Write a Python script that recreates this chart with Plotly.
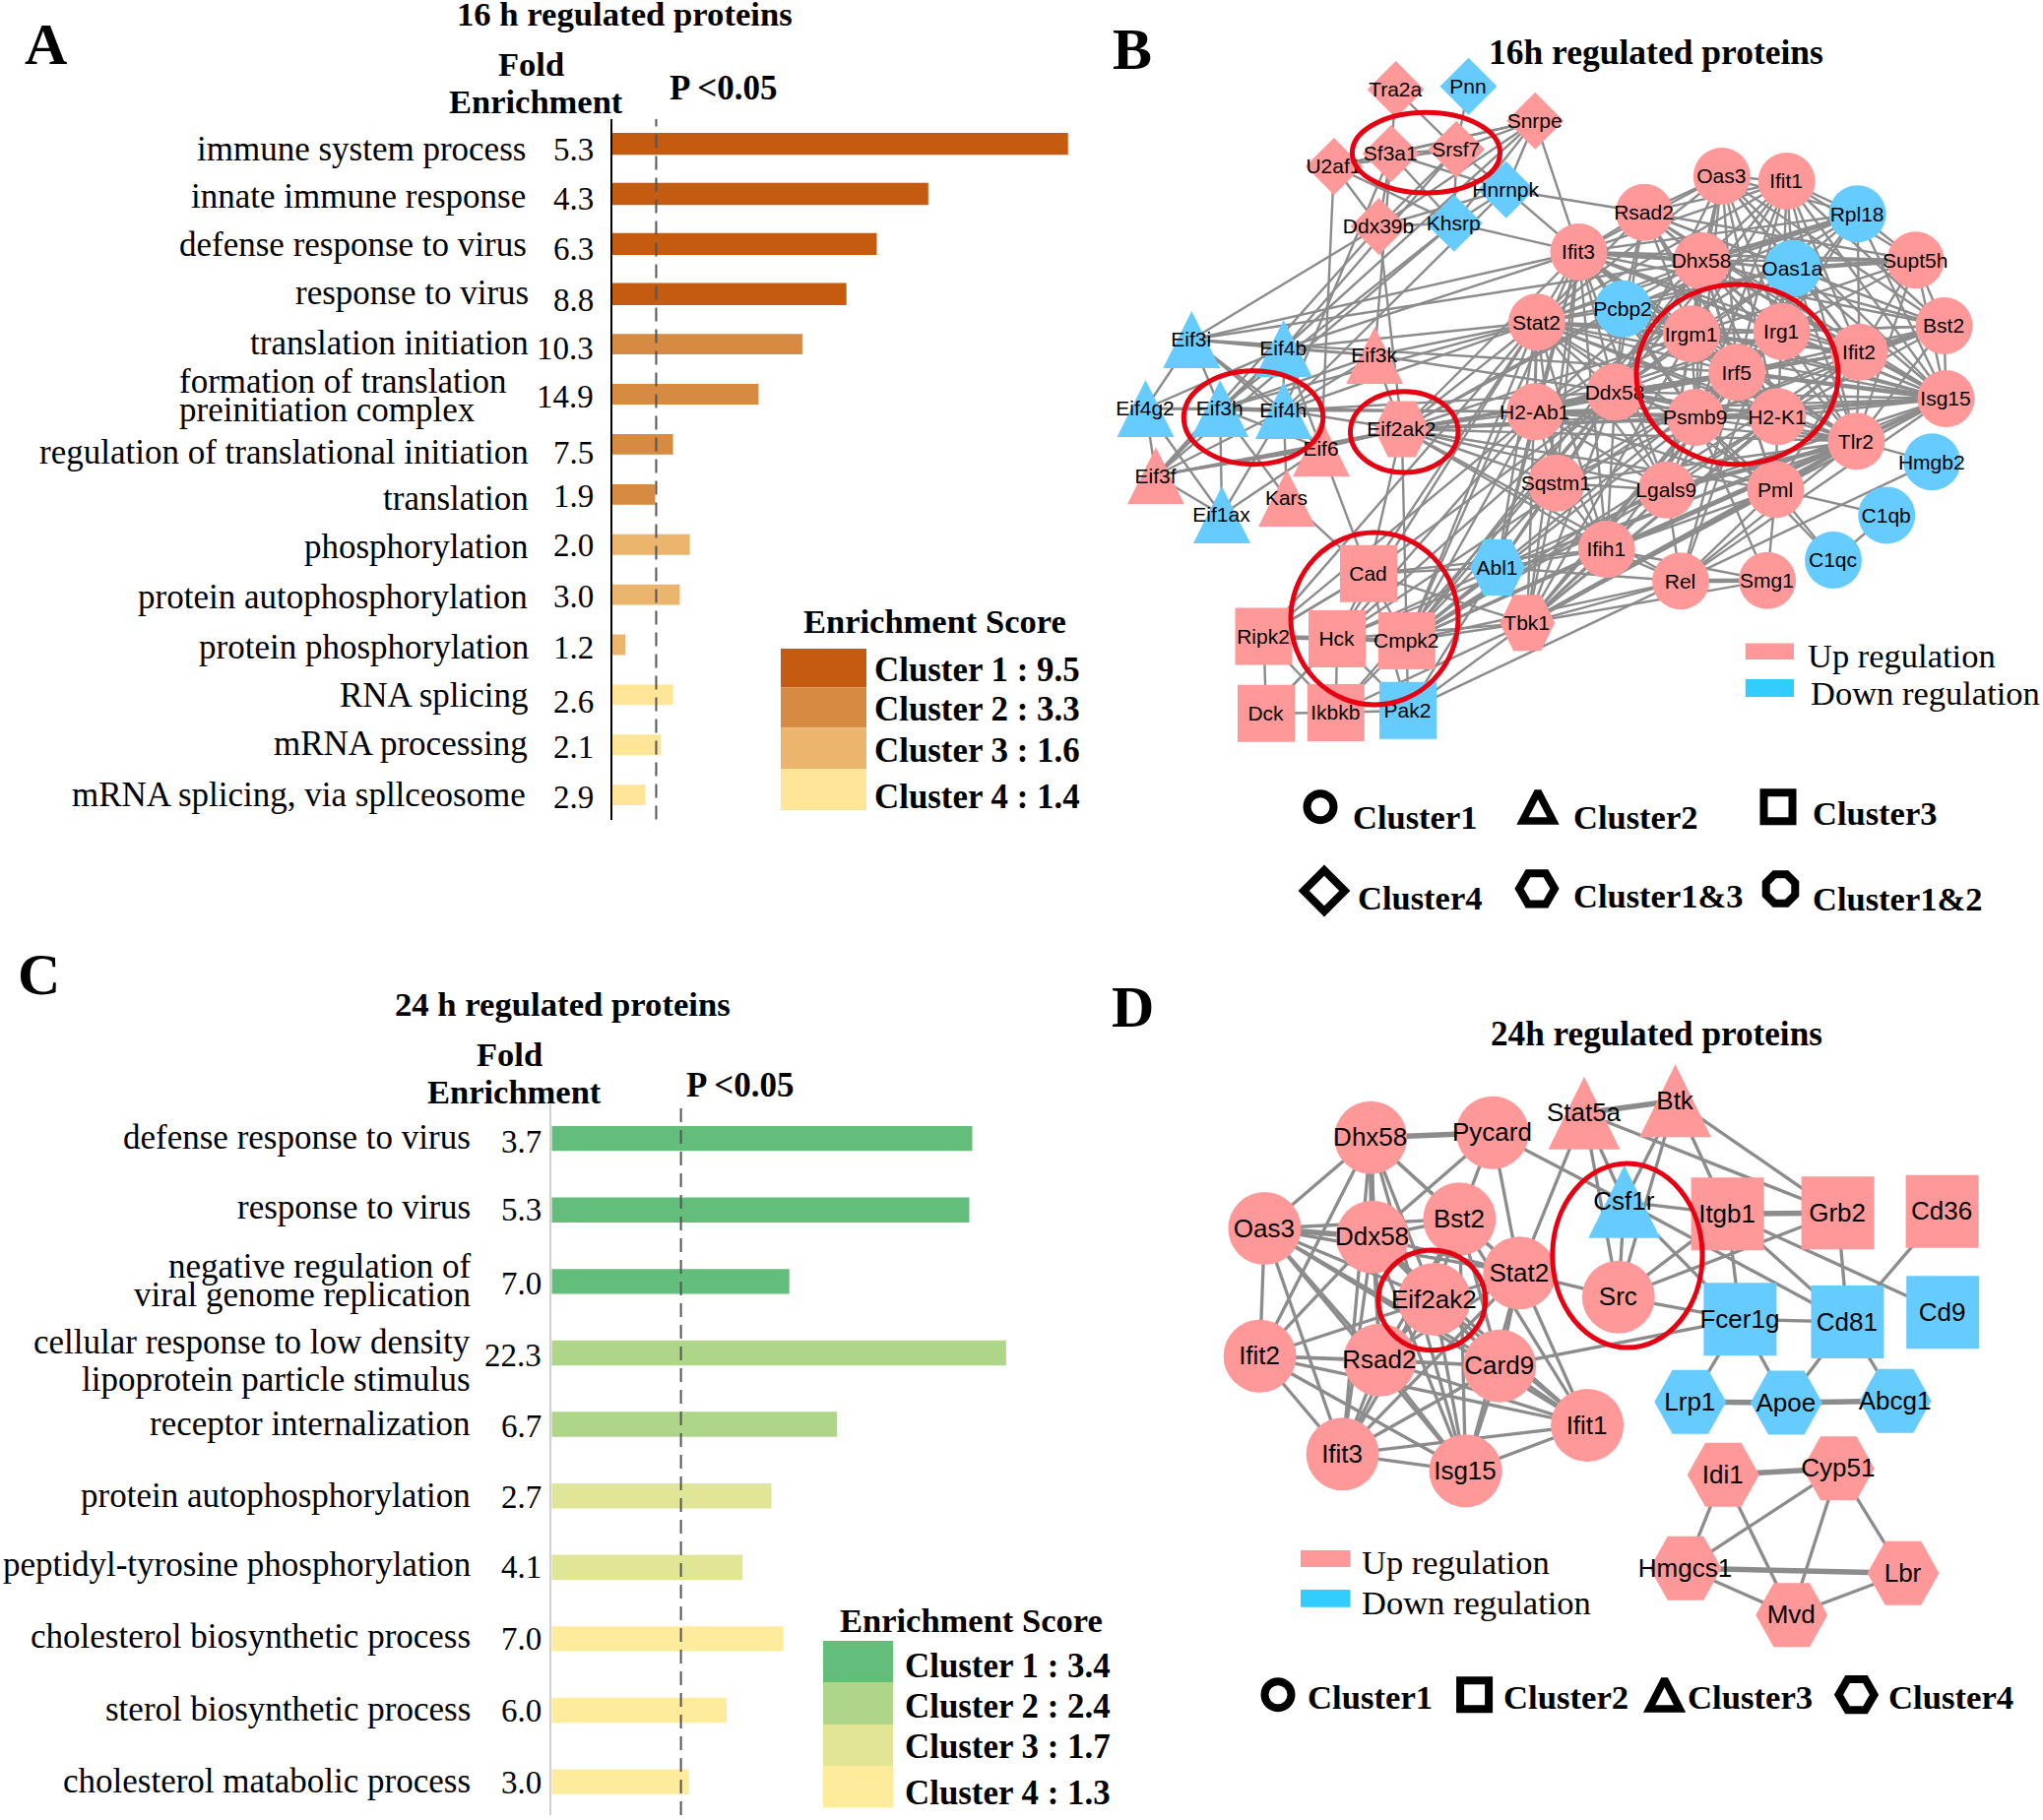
import plotly.graph_objects as go

W, H = 2075, 1849
SERIF = "Liberation Serif"
SANS = "Liberation Sans"
PINK, BLUE, SWATCH_BLUE = "#FF9999", "#66CCFF", "#33CCFF"
EDGE = "#8C8C8C"
RED = "#E60012"

# ---------- panel A ----------
A_TERMS = ["immune system process", "innate immune response", "defense response to virus",
           "response to virus", "translation initiation",
           "formation of translation preinitiation complex",
           "regulation of translational initiation", "translation", "phosphorylation",
           "protein autophosphorylation", "protein phosphorylation", "RNA splicing",
           "mRNA processing", "mRNA splicing, via spllceosome"]
A_LOGP = [13.53, 9.38, 7.85, 6.95, 5.64, 4.34, 1.80, 1.27, 2.30, 2.00, 0.38, 1.80, 1.44, 0.98]
A_CLUSTER = [1, 1, 1, 1, 2, 2, 2, 2, 3, 3, 3, 4, 4, 4]
A_FOLD = ["5.3", "4.3", "6.3", "8.8", "10.3", "14.9", "7.5", "1.9", "2.0", "3.0", "1.2", "2.6", "2.1", "2.9"]
A_COLORS = {1: "#C55A11", 2: "#D68A42", 3: "#EBB56E", 4: "#FFE597"}
A_SCORES = ["Cluster 1 : 9.5", "Cluster 2 : 3.3", "Cluster 3 : 1.6", "Cluster 4 : 1.4"]
P_LINE = 1.3

# ---------- panel C ----------
C_TERMS = ["defense response to virus", "response to virus",
           "negative regulation of viral genome replication",
           "cellular response to low density lipoprotein particle stimulus",
           "receptor internalization", "protein autophosphorylation",
           "peptidyl-tyrosine phosphorylation", "cholesterol biosynthetic process",
           "sterol biosynthetic process", "cholesterol matabolic process"]
C_LOGP = [4.23, 4.20, 2.39, 4.57, 2.87, 2.21, 1.92, 2.33, 1.76, 1.38]
C_CLUSTER = [1, 1, 1, 2, 2, 3, 3, 4, 4, 4]
C_FOLD = ["3.7", "5.3", "7.0", "22.3", "6.7", "2.7", "4.1", "7.0", "6.0", "3.0"]
C_COLORS = {1: "#63BE7B", 2: "#AED688", 3: "#E1E697", 4: "#FFEB9C"}
C_SCORES = ["Cluster 1 : 3.4", "Cluster 2 : 2.4", "Cluster 3 : 1.7", "Cluster 4 : 1.3"]

# ---------- panel B network ----------
B_NODES = {
    "Tra2a": (1417.7, 91), "Pnn": (1491.5, 87.7), "Snrpe": (1559.2, 122.7), "Sf3a1": (1412.8, 156),
    "Srsf7": (1479.2, 151.7), "U2af1": (1354.9, 169), "Hnrnpk": (1529.7, 192.7), "Ddx39b": (1400.5, 230),
    "Khsrp": (1476.8, 226.7), "Oas3": (1748.8, 179), "Ifit1": (1814.6, 184), "Rsad2": (1670, 215.7),
    "Rpl18": (1886.6, 217.3), "Ifit3": (1603.5, 256), "Dhx58": (1728.5, 265), "Oas1a": (1820.8, 272.7),
    "Supt5h": (1945.7, 264.3), "Stat2": (1561, 327.3), "Pcbp2": (1648.5, 313.7), "Irgm1": (1718, 339.3),
    "Irg1": (1809.7, 336.7), "Bst2": (1974.6, 331), "Ifit2": (1888.5, 357.7), "Irf5": (1764.2, 378.3),
    "Ddx58": (1640.5, 398.3), "H2-Ab1": (1559.2, 418.3), "Psmb9": (1722.3, 424), "H2-K1": (1805.4, 423.3),
    "Isg15": (1976.5, 405), "Tlr2": (1885.4, 448.3), "Hmgb2": (1962.3, 469.3), "Sqstm1": (1580.8, 490.7),
    "Lgals9": (1692.8, 497.7), "Pml": (1803.5, 497.3), "C1qb": (1916.2, 523.4), "C1qc": (1862, 569),
    "Ifih1": (1631.8, 558), "Rel": (1707, 590.3), "Smg1": (1795, 589.7),
    "Abl1": (1521, 576.6), "Tbk1": (1551.2, 632.8), "Eif2ak2": (1423.8, 436),
    "Cad": (1390, 582.8), "Ripk2": (1283.5, 646.6), "Hck": (1358, 649), "Cmpk2": (1428.8, 651),
    "Dck": (1286, 724.8), "Ikbkb": (1356.8, 724), "Pak2": (1430, 721.7),
    "Eif3i": (1210.3, 345), "Eif4b": (1303.8, 354), "Eif3k": (1396.2, 361), "Eif4g2": (1163.5, 415),
    "Eif3h": (1239.2, 415), "Eif4h": (1303.8, 417), "Eif6": (1342, 455.3), "Eif3f": (1174, 483.3),
    "Kars": (1307, 506), "Eif1ax": (1241, 523),
}
B_DOWN = ["Pnn", "Hnrnpk", "Khsrp", "Rpl18", "Oas1a", "Pcbp2", "Hmgb2", "C1qb", "C1qc", "Abl1", "Pak2",
          "Eif3i", "Eif4b", "Eif4g2", "Eif3h", "Eif4h", "Eif1ax"]
B_SQUARE = ["Cad", "Ripk2", "Hck", "Cmpk2", "Dck", "Ikbkb", "Pak2"]
B_DIAMOND = ["Tra2a", "Pnn", "Snrpe", "Sf3a1", "Srsf7", "U2af1", "Hnrnpk", "Ddx39b", "Khsrp"]
B_TRIANGLE = ["Eif3i", "Eif4b", "Eif3k", "Eif4g2", "Eif3h", "Eif4h", "Eif6", "Eif3f", "Kars", "Eif1ax"]
B_HEX = ["Abl1", "Tbk1", "Eif2ak2"]
B_EDGES = """
Tra2a: Sf3a1 Srsf7
Pnn: Srsf7
Snrpe: Sf3a1 Srsf7 U2af1 Ddx39b Khsrp Ifit3 Hnrnpk Eif4b
Sf3a1: Srsf7 U2af1 Hnrnpk Ddx39b Khsrp Eif4h Eif3k
Srsf7: U2af1 Hnrnpk Ddx39b Khsrp Eif4b
U2af1: Ddx39b Khsrp Eif6
Hnrnpk: Rsad2 Ifit3 Khsrp Ddx39b Eif4h
Ddx39b: Khsrp Eif3i Eif2ak2 Eif3f
Khsrp: Ifit3 Eif3h Eif3f
Eif3i: Eif4b Eif3k Eif3h Eif4h Eif4g2 Ifit3 Irf5 Dhx58 Eif6
Eif4b: Eif3k Eif3h Eif4h Eif6 Eif4g2 Stat2 Ifit3 Eif3f
Eif3k: Eif3h Eif4h Eif2ak2 Stat2 H2-K1
Eif4g2: Eif3h Eif4h Eif3f Eif1ax
Eif3h: Eif3f Eif6 Eif1ax Kars Stat2 H2-Ab1
Eif4h: Eif3f Eif1ax Kars Eif6 Ddx58 Stat2 H2-Ab1 Eif2ak2
Eif6: Eif3f Eif2ak2 Cad Eif1ax
Eif3f: Eif2ak2 Eif1ax Ddx58
Kars: Cad
Eif2ak2: Stat2 H2-Ab1 Ddx58 Irgm1 Irf5 Psmb9 H2-K1 Tlr2 Ifit2 Isg15 Dhx58 Pcbp2 Ifit3 Sqstm1 Cad Cmpk2 Lgals9 Ifih1 Pml Rel
Cad: Hck Cmpk2 Ripk2 Pak2 Abl1 Tbk1 Stat2 Ddx58 Ifih1
Ripk2: Cmpk2 Ikbkb Dck Cad Stat2 H2-Ab1
Hck: Ikbkb Pak2 Dck Stat2 Irf5 Ddx58 H2-Ab1 Abl1 Tbk1 Isg15
Cmpk2: Pak2 Ikbkb Tbk1 Abl1 Rel Ddx58 Stat2 H2-Ab1 Sqstm1 Lgals9 Irf5 Dhx58 Ifih1 Tlr2 Psmb9 H2-K1 Ifit3 Isg15 Ifit2
Dck: Ikbkb Hck
Ikbkb: Pak2 Tbk1 Ddx58
Pak2: Tbk1 Abl1 Rel
Abl1: Tbk1 Ifih1 Rel Stat2 Ddx58 Sqstm1 H2-Ab1 Lgals9 Ifit3 Tlr2 Dhx58
Tbk1: Rel Smg1 Pml Isg15 Ifih1 Lgals9 Sqstm1 Ifit3 H2-K1 Irf5 Ifit2 Stat2 Psmb9 Irg1 Irgm1 Ddx58
Rel: Ifih1 Pml Tlr2 Lgals9 Isg15 Hmgb2 Irf5 Oas1a
Smg1: Pml Ifih1 Psmb9
Pml: C1qb C1qc Irf5 Psmb9 H2-K1 Tlr2 Isg15 H2-Ab1 Ifih1 Ifit2
C1qb: C1qc
Hmgb2: Tlr2
Oas3: Ifit1 Rsad2 Ifit3 Dhx58 Oas1a Stat2 Irgm1 Irg1 Bst2 Ifit2 Irf5 Ddx58 Isg15 Rpl18 Psmb9 H2-K1
Ifit1: Rsad2 Rpl18 Ifit3 Dhx58 Oas1a Supt5h Stat2 Irgm1 Irg1 Bst2 Ifit2 Irf5 Ddx58 Isg15 Psmb9 Tlr2
Rsad2: Ifit3 Dhx58 Oas1a Stat2 Irgm1 Irg1 Bst2 Ifit2 Irf5 Ddx58 Isg15 H2-K1 Supt5h Pcbp2
Rpl18: Oas1a Ifit3 Supt5h Irg1 Ifit2 Isg15 Pcbp2 Irf5 Stat2 H2-Ab1
Ifit3: Oas1a Stat2 Pcbp2 Irgm1 Irg1 Bst2 Ifit2 Irf5 Ddx58 Isg15 H2-Ab1 Psmb9 H2-K1 Tlr2 Supt5h Sqstm1 Lgals9 Ifih1
Dhx58: Oas1a Supt5h Stat2 Irgm1 Irg1 Bst2 Ifit2 Irf5 Ddx58 Isg15 Psmb9 H2-K1 Tlr2 H2-Ab1 Lgals9 Pml
Oas1a: Stat2 Bst2 Ifit2 Isg15 Irf5 Ddx58 Irgm1 Irg1 Pcbp2 Tlr2
Supt5h: Bst2 Isg15 Ifit2 Irgm1 Irg1 Tlr2
Stat2: Pcbp2 Irgm1 Irg1 Ifit2 Irf5 Ddx58 H2-Ab1 Psmb9 H2-K1 Isg15 Tlr2 Pml Lgals9 Sqstm1 Ifih1
Pcbp2: Irf5 Ddx58 Irgm1 Psmb9 Isg15
Irgm1: Irg1 Irf5 Psmb9 H2-K1 Ifit2 Bst2 Isg15 Ddx58 H2-Ab1 Tlr2 Lgals9
Irg1: Irf5 Psmb9 H2-K1 Ifit2 Bst2 Isg15 Ddx58 H2-Ab1 Tlr2
Irf5: Psmb9 H2-K1 Ifit2 Bst2 Isg15 Ddx58 H2-Ab1 Tlr2 Lgals9 Sqstm1 Ifih1
Psmb9: H2-K1 Ifit2 Bst2 Isg15 Ddx58 H2-Ab1 Tlr2 Lgals9 Sqstm1 C1qc
H2-K1: Ifit2 Bst2 Isg15 Ddx58 H2-Ab1 Tlr2 Lgals9
Ifit2: Isg15 Ddx58 Tlr2 H2-Ab1
Bst2: Isg15 Tlr2
Isg15: Ddx58 H2-Ab1 Tlr2 Lgals9 Ifih1
Tlr2: Ddx58 H2-Ab1 Sqstm1 Ifih1
Ddx58: Sqstm1 Lgals9 Ifih1
H2-Ab1: Sqstm1 Lgals9 Ifih1
Lgals9: Ifih1 Sqstm1
Sqstm1: Ifih1
"""
B_THICK = """
Eif3h: Eif4h
Ifit3: Dhx58
Rpl18: Dhx58
Oas1a: Supt5h
Bst2: Ifit2
Isg15: Irf5
Rel: Smg1
Tlr2: Lgals9 Tbk1
H2-Ab1: Ddx58
Hck: Cmpk2 Ripk2
"""

# ---------- panel D network ----------
D_NODES = {
    "Dhx58": (1392.2, 1155.7), "Pycard": (1515.9, 1150.7), "Stat5a": (1609, 1130.7), "Btk": (1701.6, 1118.3),
    "Oas3": (1284.4, 1248), "Ddx58": (1394, 1256.7), "Bst2": (1482.4, 1238.3), "Stat2": (1543.3, 1293.3),
    "Eif2ak2": (1456.8, 1320), "Csf1r": (1649.8, 1220.8), "Src": (1643.8, 1317.7), "Itgb1": (1754.6, 1233.3),
    "Grb2": (1866.6, 1232.3), "Cd36": (1972.6, 1230.7), "Fcer1g": (1767.4, 1340.3), "Cd81": (1876.4, 1343),
    "Cd9": (1973.2, 1333.3), "Ifit2": (1279.6, 1377.7), "Rsad2": (1401.4, 1381.7), "Card9": (1523.2, 1387.7),
    "Lrp1": (1716.8, 1424.3), "Apoe": (1814.3, 1425), "Abcg1": (1925.1, 1423.3), "Ifit1": (1612.1, 1448),
    "Ifit3": (1363.6, 1477.3), "Isg15": (1488.5, 1494.3), "Idi1": (1750.3, 1498.3), "Cyp51": (1867.3, 1491.7),
    "Hmgcs1": (1712, 1593.3), "Lbr": (1933, 1598.3), "Mvd": (1819.7, 1640.7),
}
D_DOWN = ["Csf1r", "Fcer1g", "Cd81", "Cd9", "Lrp1", "Apoe", "Abcg1"]
D_SQUARE = ["Itgb1", "Grb2", "Cd36", "Fcer1g", "Cd81", "Cd9"]
D_TRIANGLE = ["Stat5a", "Btk", "Csf1r"]
D_HEX = ["Lrp1", "Apoe", "Abcg1", "Idi1", "Cyp51", "Hmgcs1", "Lbr", "Mvd"]
D_EDGES = """
Dhx58: Oas3 Bst2 Eif2ak2 Stat2 Ifit2 Ifit3 Rsad2 Isg15
Pycard: Ddx58 Bst2 Stat2 Csf1r
Stat5a: Stat2 Csf1r Src Grb2
Btk: Csf1r Itgb1 Grb2 Src
Csf1r: Itgb1 Src Fcer1g Cd81
Src: Itgb1 Grb2 Fcer1g Stat2
Itgb1: Fcer1g Cd81 Cd9
Cd36: Cd81
Cd81: Apoe Abcg1 Fcer1g Grb2
Fcer1g: Lrp1 Apoe Card9
Cyp51: Hmgcs1 Mvd Lbr
Idi1: Hmgcs1 Mvd
Hmgcs1: Mvd
Mvd: Lbr
Oas3: Bst2 Stat2 Eif2ak2 Ifit2 Rsad2 Card9 Ifit1 Ifit3 Isg15
Ddx58: Bst2 Stat2 Eif2ak2 Ifit2 Rsad2 Card9 Ifit1 Ifit3 Isg15
Bst2: Stat2 Eif2ak2 Rsad2 Card9 Ifit1 Ifit3 Isg15
Stat2: Eif2ak2 Rsad2 Card9 Ifit1 Ifit3 Isg15
Eif2ak2: Ifit2 Rsad2 Card9 Ifit1 Ifit3 Isg15
Ifit2: Rsad2 Card9 Ifit1 Ifit3 Isg15
Rsad2: Card9 Ifit1 Ifit3 Isg15
Card9: Ifit1 Ifit3 Isg15
Ifit1: Ifit3 Isg15
Ifit3: Isg15
"""
D_THICK = """
Dhx58: Pycard Ddx58
Stat5a: Btk
Itgb1: Grb2
Lrp1: Apoe
Apoe: Abcg1
Idi1: Cyp51
Hmgcs1: Lbr
Oas3: Ddx58
"""


def parse_edges(txt):
    out = []
    for line in txt.strip().splitlines():
        a, rest = line.split(":")
        out += [(a.strip(), b) for b in rest.split()]
    return out


fig = go.Figure()
annotations, shapes = [], []


def ann(x, y, text, size=34, bold=False, anchor="center", family=SERIF):
    annotations.append(dict(x=x, y=y, xref="x", yref="y", text=f"<b>{text}</b>" if bold else text,
                            showarrow=False, xanchor=anchor, yanchor="middle",
                            font=dict(family=family, size=size, color="black")))


def rect(x0, y0, x1, y1, color):
    shapes.append(dict(type="rect", xref="x", yref="y", x0=x0, y0=y0, x1=x1, y1=y1,
                       fillcolor=color, line_width=0, layer="below"))


def ring(x0, y0, x1, y1):
    shapes.append(dict(type="circle", xref="x", yref="y", x0=x0, y0=y0, x1=x1, y1=y1,
                       line=dict(color=RED, width=5), layer="above"))


def edge_trace(nodes, edges, width):
    xs, ys = [], []
    for a, b in edges:
        xs += [nodes[a][0], nodes[b][0], None]
        ys += [nodes[a][1], nodes[b][1], None]
    fig.add_trace(go.Scatter(x=xs, y=ys, mode="lines", line=dict(color=EDGE, width=width), hoverinfo="skip"))


def poly_trace(nodes, names, color, kind, w, h):
    xs, ys = [], []
    for n in names:
        x, y = nodes[n]
        if kind == "tri":
            pts = [(x, y - h / 2), (x + w / 2, y + h / 2), (x - w / 2, y + h / 2), (x, y - h / 2)]
        else:
            pts = [(x - w / 2, y), (x - w / 4, y - h / 2), (x + w / 4, y - h / 2), (x + w / 2, y),
                   (x + w / 4, y + h / 2), (x - w / 4, y + h / 2), (x - w / 2, y)]
        xs += [p[0] for p in pts] + [None]
        ys += [p[1] for p in pts] + [None]
    fig.add_trace(go.Scatter(x=xs, y=ys, mode="lines", fill="toself", fillcolor=color,
                             line=dict(width=0), hoverinfo="skip"))


def marker_trace(nodes, names, color, symbol, size):
    fig.add_trace(go.Scatter(x=[nodes[n][0] for n in names], y=[nodes[n][1] for n in names], mode="markers",
                             marker=dict(symbol=symbol, size=size, color=color, line_width=0), hoverinfo="skip"))


def network(nodes, down, square, diamond, tri, hexa, thin, thick, thin_w, thick_w, d, tri_wh, hex_wh, font):
    edge_trace(nodes, parse_edges(thin), thin_w)
    edge_trace(nodes, parse_edges(thick), thick_w)
    special = set(square) | set(diamond) | set(tri) | set(hexa)
    circ = [n for n in nodes if n not in special]
    for color, test in ((PINK, lambda n: n not in down), (BLUE, lambda n: n in down)):
        marker_trace(nodes, [n for n in circ if test(n)], color, "circle", d)
        marker_trace(nodes, [n for n in square if test(n)], color, "square", d)
        marker_trace(nodes, [n for n in diamond if test(n)], color, "diamond", d / 1.3)
        poly_trace(nodes, [n for n in tri if test(n)], color, "tri", *tri_wh)
        poly_trace(nodes, [n for n in hexa if test(n)], color, "hex", *hex_wh)
    names = list(nodes)
    fig.add_trace(go.Scatter(x=[nodes[n][0] - 0.5 for n in names], y=[nodes[n][1] + 2 for n in names], mode="text",
                             text=names, textposition="middle center",
                             textfont=dict(family=SANS, size=font, color="black"), hoverinfo="skip"))


def key_marker(x, y, symbol, size):
    fig.add_trace(go.Scatter(x=[x], y=[y], mode="markers", hoverinfo="skip",
                             marker=dict(symbol=symbol, size=size, color="black",
                                         line=dict(color="black", width=8))))


def key_triangle(x, y, w=31, h=30):
    fig.add_trace(go.Scatter(x=[x, x + w / 2, x - w / 2, x, x + w / 2], y=[y - h / 2, y + h / 2, y + h / 2, y - h / 2, y + h / 2],
                             mode="lines", hoverinfo="skip", line=dict(color="black", width=7.5)))


# anchor trace for the full-page axis
fig.add_trace(go.Scatter(x=[0, W], y=[0, H], mode="markers", marker=dict(size=1, opacity=0), hoverinfo="skip"))

network(B_NODES, B_DOWN, B_SQUARE, B_DIAMOND, B_TRIANGLE, B_HEX, B_EDGES, B_THICK, 2.4, 4.6, 58, (58, 58), (56, 57), 21)
network(D_NODES, D_DOWN, D_SQUARE, [], D_TRIANGLE, D_HEX, D_EDGES, D_THICK, 3.3, 5.5, 74, (73, 74), (73, 65), 26)

# bars
fig.add_trace(go.Bar(x=A_LOGP, y=A_TERMS, orientation="h", xaxis="x2", yaxis="y2",
                     marker=dict(color=[A_COLORS[c] for c in A_CLUSTER], line_width=0),
                     width=[0.44 if c == 1 else 0.41 for c in A_CLUSTER], hoverinfo="skip"))
fig.add_trace(go.Bar(x=C_LOGP, y=C_TERMS, orientation="h", xaxis="x3", yaxis="y3",
                     marker=dict(color=[C_COLORS[c] for c in C_CLUSTER], line_width=0),
                     width=0.35, hoverinfo="skip"))
for ax, ay in (("x2", "y2 domain"), ("x3", "y3 domain")):
    shapes.append(dict(type="line", xref=ax, yref=ay, x0=P_LINE, x1=P_LINE, y0=0, y1=1,
                       line=dict(color="#555555", width=2, dash="14px,8px"), layer="above"))

# panel A text
ann(46, 45, "A", 60, True)
ann(634, 14, "16 h regulated proteins", 34.7, True)
ann(539, 65, "Fold", 34.5, True)
ann(544, 103, "Enrichment", 34.5, True)
ann(734, 89, "P &lt;0.05", 35, True)
A_LABELS = ["immune system process", "innate immune response", "defense response to virus", "response to virus",
            "translation initiation", "formation of translation", "preinitiation complex",
            "regulation of translational initiation", "translation", "phosphorylation",
            "protein autophosphorylation", "protein phosphorylation", "RNA splicing", "mRNA processing",
            "mRNA splicing, via spllceosome"]
A_LABEL_Y = [151, 199, 248, 297.5, 348, 387, 416.5, 459, 506.5, 555, 606, 657, 706, 755, 807.5]
A_LABEL_R = [536, 536, 537, 539, 539, 516, 485, 539, 539, 538, 538, 539, 539, 538, 536]
for t, y, r in zip(A_LABELS, A_LABEL_Y, A_LABEL_R):
    ann(r, y, t, 35, anchor="right")
A_FOLD_Y = [151.5, 201.5, 253, 305, 354, 403, 459.5, 504, 553.5, 605.5, 657.5, 712.5, 759, 810]
for t, y in zip(A_FOLD, A_FOLD_Y):
    ann(605, y, t, 33, anchor="right")
ann(949, 631, "Enrichment Score", 34.5, True)
A_SW = [659, 698.3, 739.3, 781, 823]
A_KEY_Y = [680, 720, 762, 809]
for i, s in enumerate(A_SCORES):
    rect(793, A_SW[i], 880, A_SW[i + 1], A_COLORS[i + 1])
    ann(885.5, A_KEY_Y[i], s, 34.9, True, "left")

# panel C text
ann(39, 989.5, "C", 60, True)
ann(571, 1020.7, "24 h regulated proteins", 34.7, True)
ann(517, 1071, "Fold", 34.5, True)
ann(522, 1108.5, "Enrichment", 34.5, True)
ann(751, 1102, "P &lt;0.05", 35, True)
C_LABELS = ["defense response to virus", "response to virus", "negative regulation of", "viral genome replication",
            "cellular response to low density", "lipoprotein particle stimulus", "receptor internalization",
            "protein autophosphorylation", "peptidyl-tyrosine phosphorylation", "cholesterol biosynthetic process",
            "sterol biosynthetic process", "cholesterol matabolic process"]
C_LABEL_Y = [1155.5, 1226.5, 1286, 1315, 1363.8, 1401, 1446, 1519, 1589, 1662.5, 1736, 1809]
for t, y in zip(C_LABELS, C_LABEL_Y):
    ann(480, y, t, 35, anchor="right")
C_FOLD_Y = [1160, 1229, 1303.7, 1377, 1449, 1520.8, 1591.6, 1664.8, 1738, 1810.5]
for t, y in zip(C_FOLD, C_FOLD_Y):
    ann(552, y, t, 33, anchor="right")
ann(986, 1645.5, "Enrichment Score", 34.5, True)
C_SW = [1667, 1708.9, 1752, 1794, 1836.4]
C_KEY_Y = [1692.4, 1733.8, 1774.6, 1821.7]
for i, s in enumerate(C_SCORES):
    rect(836, C_SW[i], 907, C_SW[i + 1], C_COLORS[i + 1])
    ann(917, C_KEY_Y[i], s, 34.9, True, "left")

# panel B text and keys
ann(1150, 50, "B", 60, True)
ann(1682, 53, "16h regulated proteins", 35.5, True)
rect(1772.8, 653.4, 1822, 670, PINK)
rect(1772.8, 690, 1822, 708, SWATCH_BLUE)
ann(1834, 665.5, "Up regulation", 34.5, anchor="left")
ann(1837, 704, "Down regulation", 34.5, anchor="left")
key_marker(1341, 819.7, "circle-open", 27)
key_triangle(1562, 819)
key_marker(1806, 819.7, "square-open", 29)
key_marker(1345, 905, "diamond-open", 32)
key_marker(1561, 902.8, "hexagon2-open", 36)
key_marker(1808.5, 903, "octagon-open", 32)
for x, y, t in ((1372, 830, "Cluster1"), (1595.5, 830, "Cluster2"), (1838.5, 825.5, "Cluster3"),
                (1376.5, 911.8, "Cluster4"), (1595.5, 910, "Cluster1&amp;3"), (1838.5, 912.8, "Cluster1&amp;2")):
    ann(x, y, t, 34.5, True, "left")
ring(1373.4, 114.3, 1523.5, 196)
ring(1202.3, 376.7, 1343.8, 471.7)
ring(1371.5, 397.7, 1481, 480)
ring(1662, 289, 1867, 471.7)
ring(1311, 541, 1481, 716)

# panel D text and keys
ann(1150.5, 1023, "D", 60, True)
ann(1682, 1050, "24h regulated proteins", 35.2, True)
rect(1321, 1575, 1371.5, 1592, PINK)
rect(1321, 1615, 1371.5, 1632.7, SWATCH_BLUE)
ann(1381.2, 1586.7, "Up regulation", 34.5, anchor="left")
ann(1381.2, 1628, "Down regulation", 34.5, anchor="left")
key_marker(1298, 1721.7, "circle-open", 27)
key_marker(1497.6, 1721.7, "square-open", 29)
key_triangle(1690.6, 1721)
key_marker(1885.5, 1721.7, "hexagon2-open", 36)
for x, t in ((1325.5, "Cluster1"), (1524.5, "Cluster2"), (1712, "Cluster3"), (1915.5, "Cluster4")):
    ann(x, 1724.5, t, 34.7, True, "left")
ring(1400, 1270, 1508.6, 1371.7)
ring(1576.8, 1182, 1729, 1369)


def bar_axes(x_start, top, bottom, xmax, y_range, line_color, terms):
    x = dict(domain=[x_start / W, (x_start + 500) / W], range=[0, xmax], visible=False, fixedrange=True)
    y = dict(domain=[1 - bottom / H, 1 - top / H], range=y_range, type="category", categoryorder="array",
             categoryarray=terms, showticklabels=False, ticks="", showgrid=False, zeroline=False,
             showline=True, linecolor=line_color, linewidth=2, fixedrange=True)
    return x, y


x2, y2 = bar_axes(622, 121, 832.6, 500 / 34.2, [13.49, -0.493], "#000000", A_TERMS)
x3, y3 = bar_axes(560.3, 1121.6, 1844, 500 / 101, [9.467, -0.483], "#D0D0D0", C_TERMS)
x2["anchor"], y2["anchor"] = "y2", "x2"
x3["anchor"], y3["anchor"] = "y3", "x3"

fig.update_layout(
    width=W, height=H, margin=dict(l=0, r=0, t=0, b=0), paper_bgcolor="white", plot_bgcolor="rgba(0,0,0,0)",
    showlegend=False, hovermode=False, annotations=annotations, shapes=shapes, barmode="overlay",
    xaxis=dict(domain=[0, 1], range=[0, W], visible=False, fixedrange=True),
    yaxis=dict(domain=[0, 1], range=[H, 0], visible=False, fixedrange=True),
    xaxis2=x2, yaxis2=y2, xaxis3=x3, yaxis3=y3,
)
fig.write_html("out.html", post_script="document.body.style.margin='0';document.body.style.overflow='hidden';",
               config={"displayModeBar": False})
